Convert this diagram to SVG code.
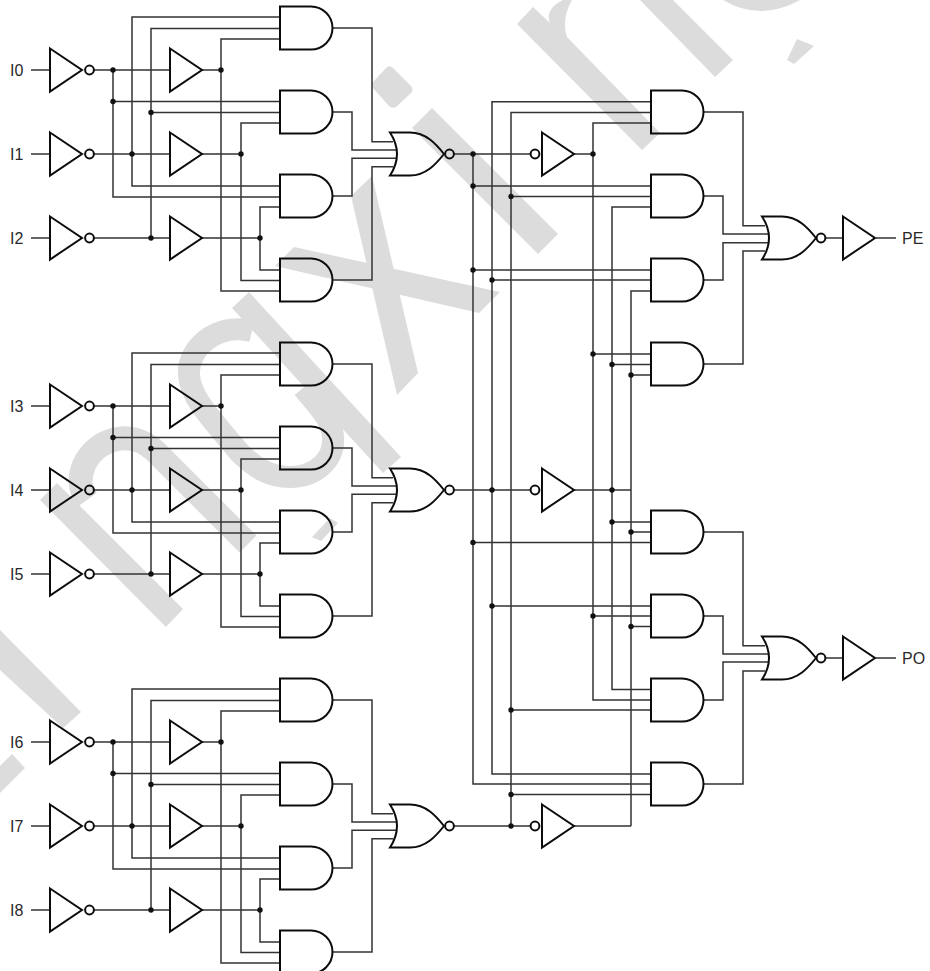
<svg xmlns="http://www.w3.org/2000/svg" xmlns:xlink="http://www.w3.org/1999/xlink" width="930" height="971" viewBox="0 0 930 971">
<style>
.bg{fill:#fff}
.wm{fill:#dcdcdc;stroke:none}
.wms{fill:none;stroke:#dcdcdc;stroke-linejoin:round}
.w{fill:none;stroke:#333;stroke-width:1.5}
.s{fill:none;stroke:#0c0c0c;stroke-width:2;stroke-linejoin:miter}
.d{fill:#111;stroke:none}
.t{font-family:"Liberation Sans",Arial,sans-serif;font-size:16px;fill:#2a2a2a}
</style>
<defs>
<path id="and" class="s" d="M0,-21.5H31A21.5,21.5 0 0 1 31,21.5H0Z"/>
<path id="nor" class="s" d="M0,-21.5H20C36,-21.5 46,-10 54,0C46,10 36,21.5 20,21.5H0Q14,0 0,-21.5Z"/>
<path id="buf" class="s" d="M0,-21.5L32,0L0,21.5Z"/>
<circle id="bub" class="s" r="4.4"/>
<circle id="dot" class="d" r="2.7"/>
<g id="bw">
<path class="w" d="M31,70H50M93,70H170M202,70H221M31,154H50M93,154H170M202,154H241M31,238H50M93,238H170M202,238H260"/>
<path class="w" d="M113,70V197H280M113,101.5H280M280,17H132V186H280M280,28.5H151V238M280,39H221V291H280M280,112.5H151M280,123H241V280.5H280M280,207H260V270H280"/>
<path class="w" d="M332,28H372V141.7H393M332,112H352V150H396M332,196H352V158.3H396M332,280H372V166.7H393"/>
<use href="#dot" x="113" y="70"/><use href="#dot" x="113" y="101.5"/><use href="#dot" x="132" y="154"/><use href="#dot" x="151" y="112.5"/><use href="#dot" x="151" y="238"/><use href="#dot" x="221" y="70"/><use href="#dot" x="241" y="154"/><use href="#dot" x="260" y="238"/>
</g>
</defs>
<rect class="bg" width="930" height="971"/>
<g id="watermark">
<path class="wm" d="M0,630L81,712L63,728L0,670Z"/>
<path class="wm" d="M0,766L12,754L25,768L0,793Z"/>
<path class="wm" d="M57,483L183,609L166,627L40,500Z"/>
<path class="wms" stroke-width="24" d="M248,544L155,451C130,427 95,440 84,465C78,480 80,490 87,500"/>
<path class="wm" d="M249,292L401,457L383,473L232,308Z"/>
<path class="wms" stroke-width="22" d="M252,331C215,322 187,350 189,375C190,395 205,412 240,453C255,468 270,477 290,477C315,477 335,460 333,437C332,420 320,408 303,388"/>
<path class="wm" d="M312,537L321,541L338,523L330,518Z"/>
<path class="wm" d="M351,196L372,176L418,373L397,395Z"/>
<path class="wm" d="M294,247L500,292L479,313L275,266Z"/>
<path class="wm" d="M432,108L558,234L538,254L412,128Z"/>
<path class="wm" d="M387,67Q390,65 393,68L411,86Q414,90 411,93L396,107Q392,109 389,106L373,88Q371,84 374,81Z"/>
<path class="wm" d="M533,7L550,23C546,12 553,5 563,0H572C565,12 563,25 567,37L660,133L642,150L517,24Z"/>
<path class="wm" d="M640,0H673L733,60L715,77Z"/>
<path class="wm" d="M723,0Q760,22 800,0Z"/>
<path class="wm" d="M797,39L814,46L794,64L787,60Z"/>
</g>
<g id="connectors">
<use href="#bw"/>
<use href="#bw" y="336"/>
<use href="#bw" y="672"/>
<path class="w" d="M453,154H531M574,154H593M453,490H531M574,490H631M453,826H531M574,826H631"/>
<path class="w" d="M651,101.7H492V774H651M651,112.5H511V826M651,123H593V700H651M473,154V784H651"/>
<path class="w" d="M473,186H651M511,196.5H651M651,207H612V689.5H651M473,270H651M492,280H651M651,291H631V826M593,354H651M612,364.5H651M631,375H651"/>
<path class="w" d="M612,522H651M631,532H651M473,542.5H651M492,606H651M593,616H651M631,626.5H651M511,710H651M511,794.5H651"/>
<path class="w" d="M704,112H743V225.7H765M704,196H723V234H768M704,280H723V242.7H768M704,364H743V251H765"/>
<path class="w" d="M704,532H743V645.7H765M704,616H723V654H768M704,700H723V662H768M704,784H743V671H765"/>
<path class="w" d="M825,238H843M876,238H896M825,658H843M876,658H896"/>
<use href="#dot" x="473" y="154"/><use href="#dot" x="473" y="186"/><use href="#dot" x="511" y="196.5"/><use href="#dot" x="473" y="270"/><use href="#dot" x="492" y="280"/><use href="#dot" x="593" y="154"/><use href="#dot" x="593" y="354"/><use href="#dot" x="612" y="364.5"/><use href="#dot" x="631" y="375"/><use href="#dot" x="492" y="490"/><use href="#dot" x="612" y="490"/><use href="#dot" x="612" y="522"/><use href="#dot" x="631" y="532"/><use href="#dot" x="473" y="542.5"/><use href="#dot" x="492" y="606"/><use href="#dot" x="593" y="616"/><use href="#dot" x="631" y="626.5"/><use href="#dot" x="511" y="710"/><use href="#dot" x="511" y="794.5"/><use href="#dot" x="511" y="826"/>
</g>
<g id="in-I0"><text class="t" x="10" y="76">I0</text><use href="#buf" x="50" y="70"/><use href="#bub" x="89.5" y="70"/></g>
<g id="in-I1"><text class="t" x="10" y="160">I1</text><use href="#buf" x="50" y="154"/><use href="#bub" x="89.5" y="154"/></g>
<g id="in-I2"><text class="t" x="10" y="244">I2</text><use href="#buf" x="50" y="238"/><use href="#bub" x="89.5" y="238"/></g>
<g id="in-I3"><text class="t" x="10" y="412">I3</text><use href="#buf" x="50" y="406"/><use href="#bub" x="89.5" y="406"/></g>
<g id="in-I4"><text class="t" x="10" y="496">I4</text><use href="#buf" x="50" y="490"/><use href="#bub" x="89.5" y="490"/></g>
<g id="in-I5"><text class="t" x="10" y="580">I5</text><use href="#buf" x="50" y="574"/><use href="#bub" x="89.5" y="574"/></g>
<g id="in-I6"><text class="t" x="10" y="748">I6</text><use href="#buf" x="50" y="742"/><use href="#bub" x="89.5" y="742"/></g>
<g id="in-I7"><text class="t" x="10" y="832">I7</text><use href="#buf" x="50" y="826"/><use href="#bub" x="89.5" y="826"/></g>
<g id="in-I8"><text class="t" x="10" y="916">I8</text><use href="#buf" x="50" y="910"/><use href="#bub" x="89.5" y="910"/></g>
<g id="buf-0"><use href="#buf" x="170" y="70"/></g>
<g id="buf-1"><use href="#buf" x="170" y="154"/></g>
<g id="buf-2"><use href="#buf" x="170" y="238"/></g>
<g id="buf-3"><use href="#buf" x="170" y="406"/></g>
<g id="buf-4"><use href="#buf" x="170" y="490"/></g>
<g id="buf-5"><use href="#buf" x="170" y="574"/></g>
<g id="buf-6"><use href="#buf" x="170" y="742"/></g>
<g id="buf-7"><use href="#buf" x="170" y="826"/></g>
<g id="buf-8"><use href="#buf" x="170" y="910"/></g>
<g id="and-1"><use href="#and" x="280" y="28"/></g>
<g id="and-2"><use href="#and" x="280" y="112"/></g>
<g id="and-3"><use href="#and" x="280" y="196"/></g>
<g id="and-4"><use href="#and" x="280" y="280"/></g>
<g id="and-5"><use href="#and" x="280" y="364"/></g>
<g id="and-6"><use href="#and" x="280" y="448"/></g>
<g id="and-7"><use href="#and" x="280" y="532"/></g>
<g id="and-8"><use href="#and" x="280" y="616"/></g>
<g id="and-9"><use href="#and" x="280" y="700"/></g>
<g id="and-10"><use href="#and" x="280" y="784"/></g>
<g id="and-11"><use href="#and" x="280" y="868"/></g>
<g id="and-12"><use href="#and" x="280" y="952"/></g>
<g id="nor-a"><use href="#nor" x="390" y="154"/><use href="#bub" x="449.5" y="154"/></g>
<g id="nor-b"><use href="#nor" x="390" y="490"/><use href="#bub" x="449.5" y="490"/></g>
<g id="nor-c"><use href="#nor" x="390" y="826"/><use href="#bub" x="449.5" y="826"/></g>
<g id="inv-a"><use href="#bub" x="535" y="154"/><use href="#buf" x="542" y="154"/></g>
<g id="inv-b"><use href="#bub" x="535" y="490"/><use href="#buf" x="542" y="490"/></g>
<g id="inv-c"><use href="#bub" x="535" y="826"/><use href="#buf" x="542" y="826"/></g>
<g id="and-r1"><use href="#and" x="651" y="112"/></g>
<g id="and-r2"><use href="#and" x="651" y="196"/></g>
<g id="and-r3"><use href="#and" x="651" y="280"/></g>
<g id="and-r4"><use href="#and" x="651" y="364"/></g>
<g id="and-r5"><use href="#and" x="651" y="532"/></g>
<g id="and-r6"><use href="#and" x="651" y="616"/></g>
<g id="and-r7"><use href="#and" x="651" y="700"/></g>
<g id="and-r8"><use href="#and" x="651" y="784"/></g>
<g id="out-PE"><use href="#nor" x="762" y="238"/><use href="#bub" x="821" y="238"/><use href="#buf" x="843" y="238"/><text class="t" x="902" y="244">PE</text></g>
<g id="out-PO"><use href="#nor" x="762" y="658"/><use href="#bub" x="821" y="658"/><use href="#buf" x="843" y="658"/><text class="t" x="902" y="664">PO</text></g>
</svg>
